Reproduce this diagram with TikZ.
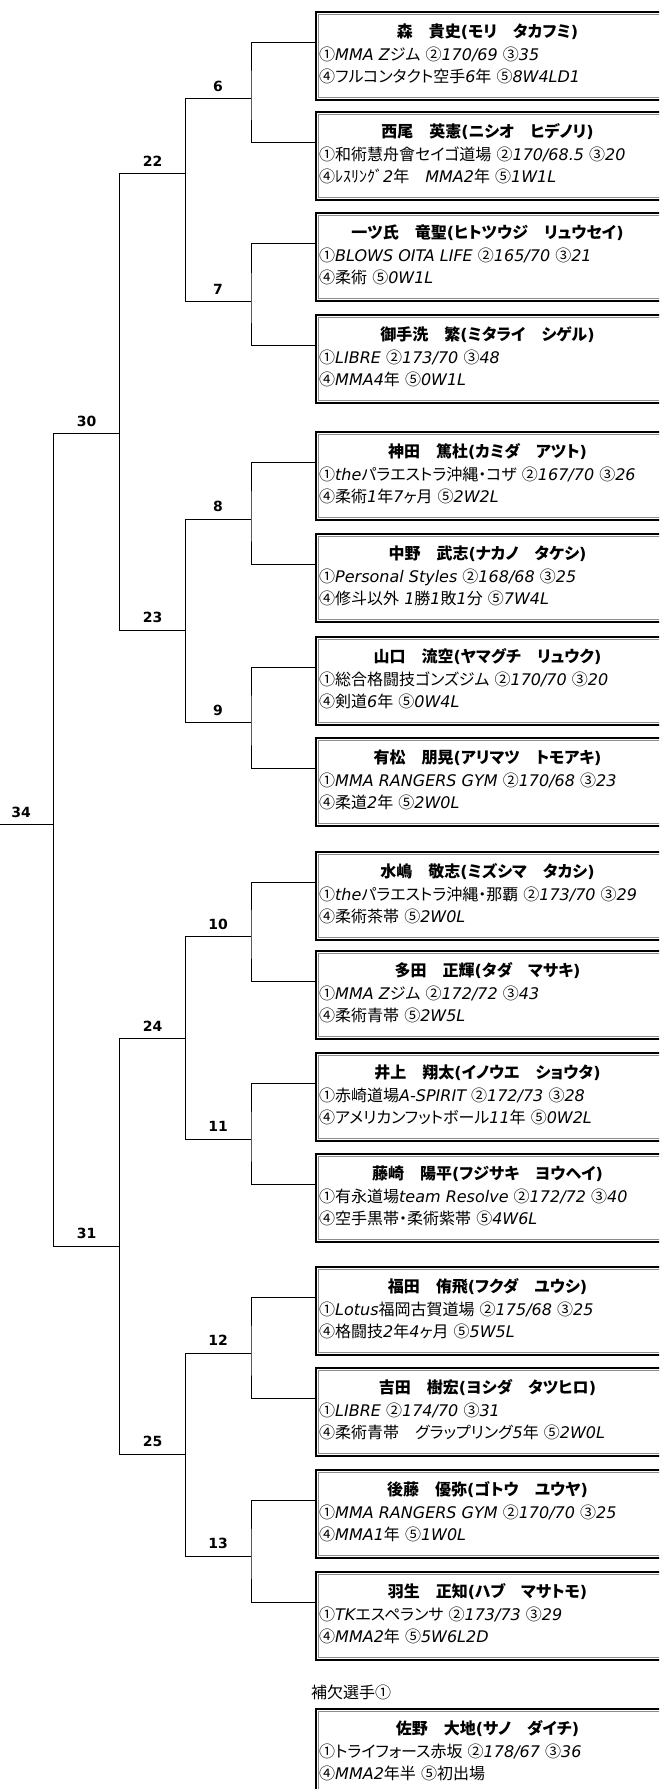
\documentclass[tikz,border=0pt]{standalone}
\usepackage{fontspec}
\usetikzlibrary{calc}
\setmainfont{DejaVu Sans}
\newfontfamily\jpfamily[RawFeature=+palt]{Noto Sans CJK JP}
\XeTeXinterchartokenstate=1
\newXeTeXintercharclass\jpclass
\newcount\jpcnt
\def\setjprange#1#2{\jpcnt=#1\relax\loop\XeTeXcharclass\jpcnt=\jpclass\advance\jpcnt by 1\relax\ifnum\jpcnt<#2\relax\repeat}
\setjprange{"2460}{"2500}
\setjprange{"3000}{"3100}
\setjprange{"4E00}{"A000}
\setjprange{"FF00}{"FFF0}
\XeTeXinterchartoks 0 \jpclass = {\begingroup\jpfamily\upshape}
\XeTeXinterchartoks 4095 \jpclass = {\begingroup\jpfamily\upshape}
\XeTeXinterchartoks \jpclass 0 = {\endgroup}
\XeTeXinterchartoks \jpclass 4095 = {\endgroup}
\tikzset{
  bl/.style={line width=1pt},
  lbl/.style={font=\fontsize{14}{16}\selectfont\bfseries, anchor=base, inner sep=0pt},
  nm/.style={font=\fontsize{16}{18}\selectfont\bfseries, anchor=base, inner sep=0pt},
  ln/.style={font=\fontsize{16}{18}\selectfont\itshape, anchor=base west, inner sep=0pt},
  boxo/.style={line width=2.4pt},
  boxi/.style={line width=0.8pt, black!45},
  pbox/.style={draw=none, minimum width=343pt, minimum height=87.5pt, anchor=north west, inner sep=0pt},
}
% #1 id, #2 top, #3 name, #4 line2, #5 line3
\newcommand\player[5]{%
  \node[pbox] (b#1) at (316,#2) {};
  \draw[boxo] ($(b#1.north east)+(6,0)$) -- (b#1.north west) -- (b#1.south west) -- ($(b#1.south east)+(6,0)$);
  \draw[boxi] ($(b#1.north east)+(6,2.2)$) -- ($(b#1.north west)+(2.2,2.2)$) -- ($(b#1.south west)+(2.2,-2.2)$) -- ($(b#1.south east)+(6,-2.2)$);
  \node[nm] (n#1) at (487.5,#2+25) {#3};
  \node[ln] (a#1) at (319,#2+48) {#4};
  \node[ln] (d#1) at (319,#2+70) {#5};
  \coordinate (c#1) at (316,#2+30);
}
% #1 id, #2 x left, #3 x right, #4 y, #5 label x
\newcommand\match[5]{%
  \coordinate (m#1) at (#2,#4);
  \coordinate (j#1) at (#3,#4);
  \draw[bl] (m#1) -- (j#1);
  \node[lbl] (t#1) at (#5,#4-7.3) {#1};
}
\begin{document}
\begin{tikzpicture}[x=1pt,y=-1pt]
\useasboundingbox (0,0) rectangle (659,1789);
\clip (0,0) rectangle (659,1789);

\player{1}{12}{森　貴史(モリ　タカフミ)}{①MMA Zジム ②170/69 ③35}{④フルコンタクト空手6年 ⑤8W4LD1}
\player{2}{112}{西尾　英憲(ニシオ　ヒデノリ)}{①和術慧舟會セイゴ道場 ②170/68.5 ③20}{④ﾚｽﾘﾝｸﾞ2年　MMA2年 ⑤1W1L}
\player{3}{213}{一ツ氏　竜聖(ヒトツウジ　リュウセイ)}{①BLOWS OITA LIFE ②165/70 ③21}{④柔術 ⑤0W1L}
\player{4}{315}{御手洗　繁(ミタライ　シゲル)}{①LIBRE ②173/70 ③48}{④MMA4年 ⑤0W1L}
\player{5}{432}{神田　篤杜(カミダ　アツト)}{①theパラエストラ沖縄・コザ ②167/70 ③26}{④柔術1年7ヶ月 ⑤2W2L}
\player{6}{534}{中野　武志(ナカノ　タケシ)}{①Personal Styles ②168/68 ③25}{④修斗以外 1勝1敗1分 ⑤7W4L}
\player{7}{637}{山口　流空(ヤマグチ　リュウク)}{①総合格闘技ゴンズジム ②170/70 ③20}{④剣道6年 ⑤0W4L}
\player{8}{738}{有松　朋晃(アリマツ　トモアキ)}{①MMA RANGERS GYM ②170/68 ③23}{④柔道2年 ⑤2W0L}
\player{9}{852}{水嶋　敬志(ミズシマ　タカシ)}{①theパラエストラ沖縄・那覇 ②173/70 ③29}{④柔術茶帯 ⑤2W0L}
\player{10}{951}{多田　正輝(タダ　マサキ)}{①MMA Zジム ②172/72 ③43}{④柔術青帯 ⑤2W5L}
\player{11}{1053}{井上　翔太(イノウエ　ショウタ)}{①赤崎道場A-SPIRIT ②172/73 ③28}{④アメリカンフットボール11年 ⑤0W2L}
\player{12}{1154}{藤崎　陽平(フジサキ　ヨウヘイ)}{①有永道場team Resolve ②172/72 ③40}{④空手黒帯・柔術紫帯 ⑤4W6L}
\player{13}{1267}{福田　侑飛(フクダ　ユウシ)}{①Lotus福岡古賀道場 ②175/68 ③25}{④格闘技2年4ヶ月 ⑤5W5L}
\player{14}{1368}{吉田　樹宏(ヨシダ　タツヒロ)}{①LIBRE ②174/70 ③31}{④柔術青帯　グラップリング5年 ⑤2W0L}
\player{15}{1470}{後藤　優弥(ゴトウ　ユウヤ)}{①MMA RANGERS GYM ②170/70 ③25}{④MMA1年 ⑤1W0L}
\player{16}{1572}{羽生　正知(ハブ　マサトモ)}{①TKエスペランサ ②173/73 ③29}{④MMA2年 ⑤5W6L2D}

% reserve player (box runs off the bottom)
\node[anchor=base west, inner sep=0pt, font=\fontsize{16}{18}\selectfont] (sub) at (311,1698) {補欠選手①};
\node[pbox, minimum height=100pt] (b17) at (316,1709) {};
\draw[boxo] ($(b17.north east)+(6,0)$) -- (b17.north west) -- (b17.south west);
\draw[boxi] ($(b17.north east)+(6,2.2)$) -- ($(b17.north west)+(2.2,2.2)$) -- ($(b17.south west)+(2.2,0)$);
\node[nm] (n17) at (487.5,1734) {佐野　大地(サノ　ダイチ)};
\node[ln] (a17) at (319,1757) {①トライフォース赤坂 ②178/67 ③36};
\node[ln] (d17) at (319,1779) {④MMA2年半 ⑤初出場};

% first round
\match{6}{185}{251}{98.3}{218}
\match{7}{185}{251}{301.7}{218}
\match{8}{185}{251}{519}{218}
\match{9}{185}{251}{722.7}{218}
\match{10}{185}{251}{936.7}{218}
\match{11}{185}{251}{1139}{218}
\match{12}{185}{251}{1353}{218}
\match{13}{185}{251}{1556}{218}
\draw[bl] (c1) -| (j6) |- (c2);
\draw[bl] (c3) -| (j7) |- (c4);
\draw[bl] (c5) -| (j8) |- (c6);
\draw[bl] (c7) -| (j9) |- (c8);
\draw[bl] (c9) -| (j10) |- (c10);
\draw[bl] (c11) -| (j11) |- (c12);
\draw[bl] (c13) -| (j12) |- (c14);
\draw[bl] (c15) -| (j13) |- (c16);
% second round
\match{22}{119}{185}{173.3}{152.5}
\match{23}{119}{185}{630}{152.5}
\match{24}{119}{185}{1038.3}{152.5}
\match{25}{119}{185}{1454}{152.5}
\draw[bl] (m6) -- (m7);
\draw[bl] (m8) -- (m9);
\draw[bl] (m10) -- (m11);
\draw[bl] (m12) -- (m13);
% third round
\match{30}{53}{119}{433.3}{86.5}
\match{31}{53}{119}{1246}{86.5}
\draw[bl] (m22) -- (m23);
\draw[bl] (m24) -- (m25);
% final
\match{34}{0}{53}{824.3}{21}
\draw[bl] (m30) -- (m31);
\end{tikzpicture}
\end{document}
